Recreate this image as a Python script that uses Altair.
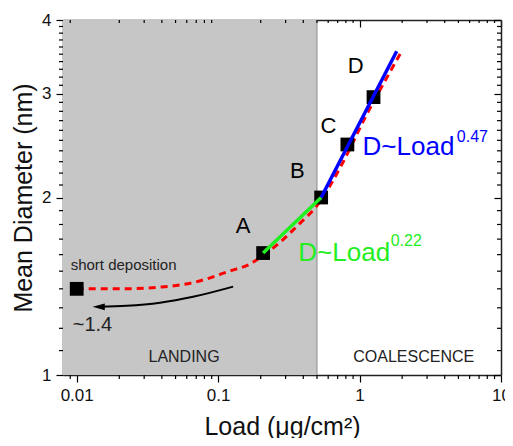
import altair as alt
import pandas as pd

# ---------------- data ----------------
pt_load = [0.01, 0.208, 0.535, 0.82, 1.255]
pt_diam = [1.40, 1.61, 2.00, 2.46, 2.96]

fit_load = [0.01, 0.02, 0.04, 0.067, 0.12, 0.17, 0.2, 0.275, 0.38, 0.49, 0.76, 1.1, 1.6, 2.01]
fit_diam = [1.40, 1.40, 1.41, 1.435, 1.50, 1.545, 1.585, 1.68, 1.81, 1.925, 2.29, 2.74, 3.23, 3.56]

green_load = [0.208, 0.535]
green_diam = [1.61, 2.00]
blue_load = [0.535, 1.83]
blue_diam = [2.00, 3.54]

region_load = [0.008, 0.5]
region_diam = [1, 4]

arrow_load = [0.1277, 0.0665, 0.0388, 0.0226, 0.0143]
arrow_diam = [1.412, 1.357, 1.326, 1.310, 1.305]
arrowhead_load = [0.0143]
arrowhead_diam = [1.305]

x_major = [0.01, 0.1, 1, 10]
x_minor = [0.009, 0.02, 0.03, 0.04, 0.05, 0.06, 0.07, 0.08, 0.09,
           0.2, 0.3, 0.4, 0.5, 0.6, 0.7, 0.8, 0.9,
           2, 3, 4, 5, 6, 7, 8, 9]
y_major = [1, 2, 3, 4]
y_minor = [1.1, 1.2, 1.3, 1.4, 1.5, 1.6, 1.7, 1.8, 1.9,
           2.1, 2.2, 2.3, 2.4, 2.5, 2.6, 2.7, 2.8, 2.9,
           3.1, 3.2, 3.3, 3.4, 3.5, 3.6, 3.7, 3.8, 3.9]

# annotations (centered)
c_text = ["A", "B", "C", "D", "LANDING", "COALESCENCE"]
c_load = [0.150, 0.363, 0.603, 0.937, 0.0574, 2.415]
c_diam = [1.792, 2.214, 2.642, 3.34, 1.073, 1.073]
c_size = [22, 22, 22, 22, 16, 16]
c_color = ["#000000", "#000000", "#000000", "#000000", "#222222", "#222222"]

# annotations (left aligned)
l_text = ["D~Load", "0.47", "D~Load", "0.22", "short deposition", "~1.4"]
l_load = [1.05, 4.87, 0.369, 1.66, 0.00906, 0.00937]
l_diam = [2.432, 2.53, 1.613, 1.69, 1.538, 1.216]
l_size = [26, 16, 26, 16, 15, 20]
l_color = ["#0000ff", "#0000ff", "#22ee22", "#22ee22", "#222222", "#222222"]

FONT = "Liberation Sans"
W, H = 438, 355
MAJ, MIN = 7, 4
TICK_COLOR = "#000000"
X_LO, X_HI = 0.008, 10
Y_LO, Y_HI = 1, 4

xs = alt.Scale(type="log", domain=[X_LO, X_HI], nice=False)
ys = alt.Scale(type="log", domain=[Y_LO, Y_HI], nice=False)


def make_axis(orient, values, labels, title=None, offset=0, title_pad=0):
    kw = dict(
        orient=orient, values=values, offset=offset,
        ticks=True, tickSize=MAJ, tickColor=TICK_COLOR, tickWidth=1.2, tickOpacity=1,
        domain=True, domainColor="#222222", domainWidth=1.5,
        grid=False, labels=labels,
        labelFont=FONT, labelFontSize=17, labelColor="#111111",
        labelFlush=False, labelPadding=5,
        format="~g",
    )
    if title is not None:
        kw.update(title=title, titleFont=FONT, titleFontSize=25, titleFontWeight="normal",
                  titleColor="#111111", titlePadding=title_pad)
    else:
        kw.update(title=None)
    return alt.Axis(**kw)


region_df = pd.DataFrame({"x": [region_load[0]], "x2": [region_load[1]],
                          "y": [region_diam[0]], "y2": [region_diam[1]]})


def axis_layer(xaxis, yaxis):
    return alt.Chart(region_df).mark_rect(opacity=0).encode(
        x=alt.X("x:Q", scale=xs, axis=xaxis),
        x2="x2:Q",
        y=alt.Y("y:Q", scale=ys, axis=yaxis),
        y2="y2:Q",
    )


# tick marks placed with both channels on the data scales (edge datum + pixel offset)
def x_ticks(values, length, edge, offset):
    return alt.Chart(pd.DataFrame({"v": values, "e": [edge] * len(values)})).mark_tick(
        color=TICK_COLOR, thickness=1.2, size=length, orient="vertical", opacity=1,
        yOffset=offset,
    ).encode(
        x=alt.X("v:Q", scale=xs, axis=None),
        y=alt.Y("e:Q", scale=ys, axis=None),
    )


def y_ticks(values, length, edge, offset):
    return alt.Chart(pd.DataFrame({"v": values, "e": [edge] * len(values)})).mark_tick(
        color=TICK_COLOR, thickness=1.2, size=length, orient="horizontal", opacity=1,
        xOffset=offset,
    ).encode(
        y=alt.Y("v:Q", scale=ys, axis=None),
        x=alt.X("e:Q", scale=xs, axis=None),
    )


region = alt.Chart(region_df).mark_rect(color="#c6c6c6").encode(
    x=alt.X("x:Q", scale=xs, axis=None),
    x2="x2:Q",
    y=alt.Y("y:Q", scale=ys, axis=None),
    y2="y2:Q",
)

ax_main = axis_layer(make_axis("bottom", x_major, True, "Load (μg/cm²)", 0, 11),
                     make_axis("left", y_major, True, "Mean Diameter (nm)", 0, 5))
ax_mirror = axis_layer(make_axis("bottom", x_major, False, None, -H),
                       make_axis("left", y_major, False, None, -W))

ticks = [
    x_ticks(x_minor, MIN, Y_LO, MIN / 2),
    x_ticks(x_minor, MIN - 1, Y_HI, (MIN - 1) / 2),
    y_ticks(y_minor, MIN, X_LO, -MIN / 2),
    y_ticks(y_minor, MIN, X_HI, -MIN / 2),
]

boundary = alt.Chart(region_df).mark_rule(color="#8a8a8a", strokeWidth=1).encode(
    x=alt.X("x2:Q", scale=xs, axis=None),
    y=alt.Y("y:Q", scale=ys, axis=None),
    y2="y2:Q",
)

fit_df = pd.DataFrame({"x": fit_load, "y": fit_diam})
fit = alt.Chart(fit_df).mark_line(color="#ff0000", strokeWidth=3, strokeDash=[7, 5],
                                  interpolate="monotone").encode(
    x=alt.X("x:Q", scale=xs, axis=None),
    y=alt.Y("y:Q", scale=ys, axis=None),
)

pts_df = pd.DataFrame({"x": pt_load, "y": pt_diam})
pts = alt.Chart(pts_df).mark_point(shape="square", filled=True, color="#000000",
                                   size=190, opacity=1).encode(
    x=alt.X("x:Q", scale=xs, axis=None),
    y=alt.Y("y:Q", scale=ys, axis=None),
)

green = alt.Chart(pd.DataFrame({"x": green_load, "y": green_diam})).mark_line(
    color="#22ee22", strokeWidth=3.5).encode(
    x=alt.X("x:Q", scale=xs, axis=None),
    y=alt.Y("y:Q", scale=ys, axis=None),
)

blue = alt.Chart(pd.DataFrame({"x": blue_load, "y": blue_diam})).mark_line(
    color="#0000ff", strokeWidth=3.5).encode(
    x=alt.X("x:Q", scale=xs, axis=None),
    y=alt.Y("y:Q", scale=ys, axis=None),
)

arrow = alt.Chart(pd.DataFrame({"x": arrow_load, "y": arrow_diam,
                                "o": list(range(len(arrow_load)))})).mark_line(
    color="#000000", strokeWidth=2, interpolate="monotone").encode(
    x=alt.X("x:Q", scale=xs, axis=None),
    y=alt.Y("y:Q", scale=ys, axis=None),
    order="o:Q",
)

head = alt.Chart(pd.DataFrame({"x": arrowhead_load, "y": arrowhead_diam})).mark_point(
    shape="M 1 -0.55 L -1 0 L 1 0.55 Z", filled=True, color="#000000", size=150, opacity=1
).encode(
    x=alt.X("x:Q", scale=xs, axis=None),
    y=alt.Y("y:Q", scale=ys, axis=None),
)

c_df = pd.DataFrame({"t": c_text, "x": c_load, "y": c_diam, "s": c_size, "c": c_color})
ctext = alt.Chart(c_df).mark_text(font=FONT, align="center", baseline="middle").encode(
    x=alt.X("x:Q", scale=xs, axis=None),
    y=alt.Y("y:Q", scale=ys, axis=None),
    text="t:N",
    size=alt.Size("s:Q", scale=None),
    color=alt.Color("c:N", scale=None),
)

l_df = pd.DataFrame({"t": l_text, "x": l_load, "y": l_diam, "s": l_size, "c": l_color})
ltext = alt.Chart(l_df).mark_text(font=FONT, align="left", baseline="middle").encode(
    x=alt.X("x:Q", scale=xs, axis=None),
    y=alt.Y("y:Q", scale=ys, axis=None),
    text="t:N",
    size=alt.Size("s:Q", scale=None),
    color=alt.Color("c:N", scale=None),
)

chart = alt.layer(
    region, boundary, fit, pts, green, blue, arrow, head, ctext, ltext,
    *ticks, ax_main, ax_mirror,
).resolve_axis(x="independent", y="independent").properties(
    width=W, height=H,
    autosize=alt.AutoSizeParams(type="none"),
    padding={"left": 55, "top": 12, "right": 4, "bottom": 63},
    background="#ffffff",
).configure_view(stroke=None)

chart.save("out.html", embed_options={"renderer": "svg", "actions": False})
